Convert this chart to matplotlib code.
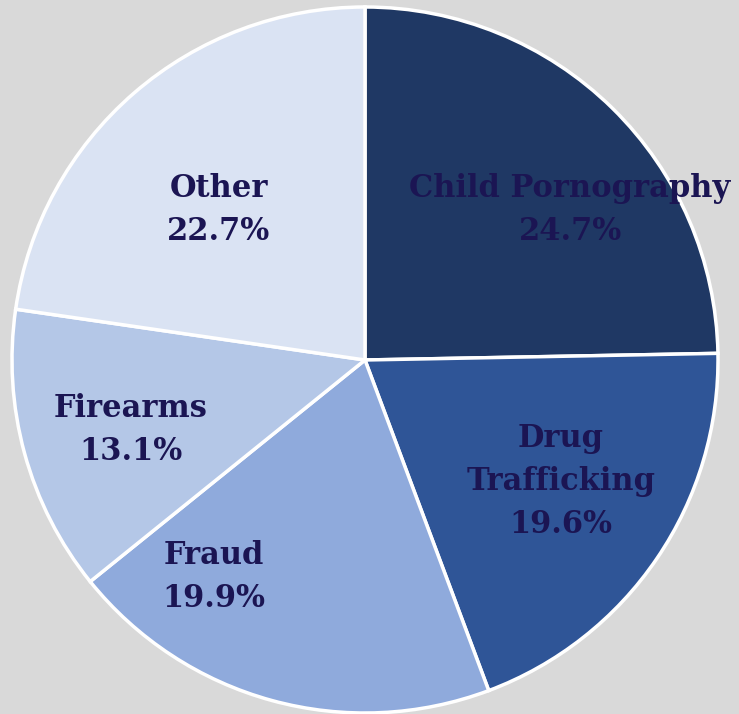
import matplotlib.pyplot as plt

categories = ["Child Pornography", "Drug\nTrafficking", "Fraud", "Firearms", "Other"]
shares = [24.7, 19.6, 19.9, 13.1, 22.7]
colors = ["#1F3864", "#2F5597", "#8FAADC", "#B4C7E7", "#DAE3F3"]

# label centres, in units of the pie radius
label_pos = [(0.581, 0.425), (0.555, -0.343), (-0.428, -0.615), (-0.663, -0.198), (-0.414, 0.425)]

fig = plt.figure(figsize=(7.39, 7.14), dpi=100)
fig.patch.set_facecolor("#D9D9D9")
ax = fig.add_axes([0, 0, 1, 1])
ax.set_facecolor("#D9D9D9")

ax.pie(shares, colors=colors, startangle=90, counterclock=False,
       wedgeprops=dict(edgecolor="white", linewidth=2.5))

for name, val, (x, y) in zip(categories, shares, label_pos):
    ax.text(x, y, f"{name}\n{val:.1f}%", ha="center", va="center",
            fontsize=22, fontweight="bold", family="DejaVu Serif",
            color="#1B1553", linespacing=1.5)

ax.set_xlim(-365 / 353, 374 / 353)
ax.set_ylim(-354 / 353, 360 / 353)
ax.set_aspect("auto")
ax.axis("off")

fig.savefig("out.png", dpi=100, facecolor=fig.get_facecolor())
